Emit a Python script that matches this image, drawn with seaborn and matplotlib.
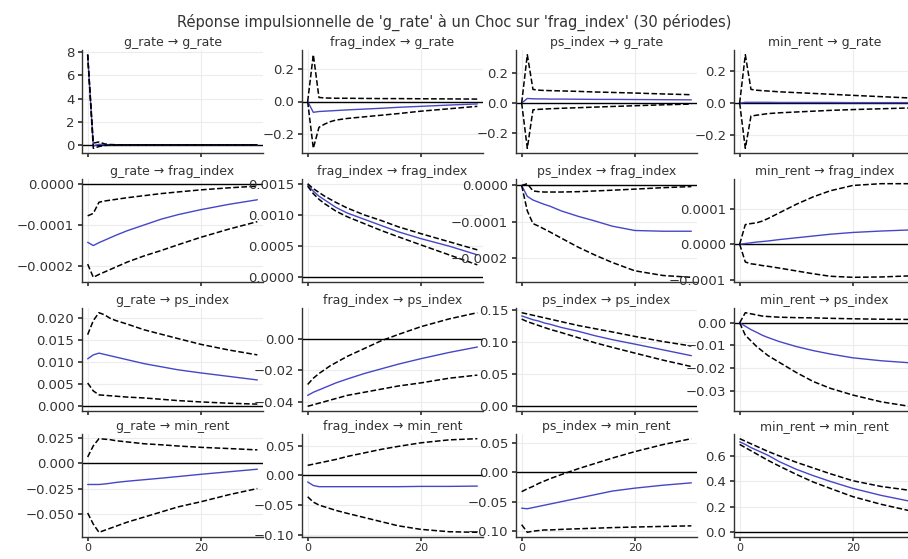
import matplotlib
matplotlib.use("Agg")
import numpy as np
import pandas as pd
import seaborn as sns
import matplotlib.pyplot as plt

# ---------------- data ----------------
variables = ["g_rate", "frag_index", "ps_index", "min_rent"]
periods = [0, 1, 2, 3, 4, 5, 7, 10, 13, 16, 20, 25, 30]
suptitle = "Réponse impulsionnelle de 'g_rate' à un Choc sur 'frag_index' (30 périodes)"
x_ticks = [0, 20]

# naming: <series>_<impulse>_<response>  (g=g_rate, f=frag_index, p=ps_index, m=min_rent)
# --- response g_rate ---
irf_g_g = [7.8, -0.1, 0.05, 0.0, 0.0, 0.0, 0.0, 0.0, 0.0, 0.0, 0.0, 0.0, 0.0]
lo_g_g = [7.8, -0.3, -0.15, -0.05, -0.02, -0.01, 0.0, 0.0, 0.0, 0.0, 0.0, 0.0, 0.0]
hi_g_g = [7.8, 0.15, 0.25, 0.08, 0.03, 0.01, 0.0, 0.0, 0.0, 0.0, 0.0, 0.0, 0.0]
yt_g_g = [0, 2, 4, 6, 8]

irf_f_g = [0.0, -0.067, -0.062, -0.06, -0.058, -0.056, -0.052, -0.047, -0.042, -0.036, -0.03, -0.022, -0.015]
lo_f_g = [0.0, -0.29, -0.16, -0.14, -0.125, -0.115, -0.105, -0.095, -0.085, -0.075, -0.06, -0.045, -0.03]
hi_f_g = [0.0, 0.29, 0.025, 0.022, 0.021, 0.02, 0.02, 0.019, 0.018, 0.018, 0.017, 0.016, 0.015]
yt_f_g = [-0.2, 0.0, 0.2]

irf_p_g = [0.0, 0.03, 0.028, 0.027, 0.027, 0.026, 0.026, 0.025, 0.024, 0.024, 0.023, 0.022, 0.021]
lo_p_g = [0.0, -0.3, -0.045, -0.042, -0.04, -0.038, -0.035, -0.031, -0.027, -0.023, -0.018, -0.012, -0.007]
hi_p_g = [0.0, 0.32, 0.09, 0.085, 0.083, 0.082, 0.08, 0.077, 0.073, 0.07, 0.066, 0.06, 0.055]
yt_p_g = [-0.2, 0.0, 0.2]

irf_m_g = [0.0, 0.005, 0.005, 0.005, 0.005, 0.005, 0.004, 0.004, 0.004, 0.004, 0.003, 0.003, 0.003]
lo_m_g = [0.0, -0.28, -0.08, -0.075, -0.07, -0.065, -0.06, -0.055, -0.05, -0.045, -0.04, -0.035, -0.03]
hi_m_g = [0.0, 0.3, 0.085, 0.08, 0.077, 0.075, 0.07, 0.065, 0.06, 0.055, 0.048, 0.04, 0.032]
yt_m_g = [-0.2, 0.0, 0.2]

# --- response frag_index ---
irf_g_f = [-1.42e-4, -1.50e-4, -1.43e-4, -1.37e-4, -1.31e-4, -1.25e-4, -1.14e-4, -1.00e-4, -0.86e-4, -0.75e-4, -0.63e-4, -0.50e-4, -0.39e-4]
lo_g_f = [-1.95e-4, -2.27e-4, -2.20e-4, -2.14e-4, -2.08e-4, -2.02e-4, -1.90e-4, -1.75e-4, -1.62e-4, -1.48e-4, -1.30e-4, -1.10e-4, -0.92e-4]
hi_g_f = [-0.78e-4, -0.72e-4, -0.45e-4, -0.42e-4, -0.40e-4, -0.38e-4, -0.34e-4, -0.29e-4, -0.24e-4, -0.20e-4, -0.15e-4, -0.10e-4, -0.06e-4]
yt_g_f = [-0.0002, -0.0001, 0.0]

irf_f_f = [1.48e-3, 1.38e-3, 1.30e-3, 1.24e-3, 1.18e-3, 1.12e-3, 1.03e-3, 0.93e-3, 0.83e-3, 0.73e-3, 0.62e-3, 0.50e-3, 0.36e-3]
lo_f_f = [1.46e-3, 1.34e-3, 1.25e-3, 1.18e-3, 1.12e-3, 1.06e-3, 0.97e-3, 0.86e-3, 0.75e-3, 0.65e-3, 0.52e-3, 0.36e-3, 0.20e-3]
hi_f_f = [1.50e-3, 1.42e-3, 1.36e-3, 1.30e-3, 1.25e-3, 1.20e-3, 1.11e-3, 1.00e-3, 0.91e-3, 0.81e-3, 0.70e-3, 0.57e-3, 0.44e-3]
yt_f_f = [0.0, 0.0005, 0.0010, 0.0015]

irf_p_f = [0.0, -0.30e-4, -0.40e-4, -0.46e-4, -0.52e-4, -0.57e-4, -0.70e-4, -0.85e-4, -0.98e-4, -1.12e-4, -1.24e-4, -1.26e-4, -1.26e-4]
lo_p_f = [0.0, -0.70e-4, -1.05e-4, -1.12e-4, -1.20e-4, -1.28e-4, -1.45e-4, -1.70e-4, -1.92e-4, -2.12e-4, -2.35e-4, -2.48e-4, -2.53e-4]
hi_p_f = [0.0, 0.05e-4, -0.15e-4, -0.17e-4, -0.18e-4, -0.18e-4, -0.18e-4, -0.17e-4, -0.15e-4, -0.13e-4, -0.10e-4, -0.06e-4, -0.03e-4]
yt_p_f = [-0.0002, -0.0001, 0.0]

irf_m_f = [0.0, 0.02e-4, 0.04e-4, 0.06e-4, 0.075e-4, 0.09e-4, 0.13e-4, 0.18e-4, 0.23e-4, 0.28e-4, 0.33e-4, 0.37e-4, 0.40e-4]
lo_m_f = [0.0, -0.50e-4, -0.55e-4, -0.57e-4, -0.60e-4, -0.62e-4, -0.67e-4, -0.75e-4, -0.83e-4, -0.90e-4, -0.93e-4, -0.92e-4, -0.89e-4]
hi_m_f = [0.0, 0.55e-4, 0.58e-4, 0.60e-4, 0.65e-4, 0.72e-4, 0.88e-4, 1.12e-4, 1.33e-4, 1.50e-4, 1.65e-4, 1.70e-4, 1.70e-4]
yt_m_f = [-0.0001, 0.0, 0.0001]

# --- response ps_index ---
irf_g_p = [0.0108, 0.0117, 0.0121, 0.0118, 0.0115, 0.0112, 0.0106, 0.0097, 0.0090, 0.0083, 0.0076, 0.0068, 0.0060]
lo_g_p = [0.0053, 0.0035, 0.0026, 0.0025, 0.0024, 0.0023, 0.0021, 0.0019, 0.0016, 0.0013, 0.0010, 0.0007, 0.0005]
hi_g_p = [0.0163, 0.0195, 0.0213, 0.0208, 0.0200, 0.0195, 0.0187, 0.0174, 0.0164, 0.0154, 0.0141, 0.0128, 0.0117]
yt_g_p = [0.0, 0.005, 0.010, 0.015, 0.020]

irf_f_p = [-0.036, -0.034, -0.0325, -0.031, -0.0295, -0.028, -0.0255, -0.022, -0.019, -0.016, -0.0125, -0.0085, -0.005]
lo_f_p = [-0.043, -0.042, -0.041, -0.040, -0.039, -0.038, -0.036, -0.034, -0.032, -0.030, -0.028, -0.025, -0.023]
hi_f_p = [-0.029, -0.025, -0.022, -0.0195, -0.017, -0.015, -0.011, -0.006, -0.001, 0.003, 0.008, 0.013, 0.017]
yt_f_p = [-0.04, -0.02, 0.0]

irf_p_p = [0.141, 0.138, 0.135, 0.133, 0.130, 0.128, 0.123, 0.117, 0.110, 0.104, 0.097, 0.088, 0.079]
lo_p_p = [0.136, 0.132, 0.129, 0.126, 0.123, 0.120, 0.115, 0.107, 0.099, 0.092, 0.083, 0.072, 0.062]
hi_p_p = [0.146, 0.144, 0.142, 0.140, 0.138, 0.136, 0.132, 0.126, 0.121, 0.116, 0.109, 0.101, 0.094]
yt_p_p = [0.0, 0.05, 0.10, 0.15]

irf_m_p = [0.0, -0.0015, -0.003, -0.0042, -0.0055, -0.0065, -0.0083, -0.0105, -0.0123, -0.0138, -0.0155, -0.0168, -0.0177]
lo_m_p = [0.0, -0.0055, -0.008, -0.0105, -0.0125, -0.0145, -0.0175, -0.022, -0.026, -0.029, -0.032, -0.035, -0.037]
hi_m_p = [0.0, 0.0045, 0.004, 0.0035, 0.003, 0.0028, 0.0025, 0.0023, 0.0022, 0.002, 0.0018, 0.0016, 0.0015]
yt_m_p = [-0.03, -0.02, -0.01, 0.0]

# --- response min_rent ---
irf_g_m = [-0.021, -0.021, -0.021, -0.0205, -0.0198, -0.019, -0.0178, -0.0163, -0.0148, -0.0132, -0.011, -0.0085, -0.006]
lo_g_m = [-0.049, -0.060, -0.068, -0.066, -0.064, -0.062, -0.058, -0.053, -0.048, -0.043, -0.038, -0.031, -0.025]
hi_g_m = [0.006, 0.017, 0.024, 0.0235, 0.023, 0.022, 0.0208, 0.019, 0.018, 0.0168, 0.0155, 0.0143, 0.013]
yt_g_m = [-0.050, -0.025, 0.0, 0.025]

irf_f_m = [-0.011, -0.017, -0.019, -0.019, -0.019, -0.019, -0.019, -0.019, -0.019, -0.019, -0.0185, -0.0185, -0.018]
lo_f_m = [-0.036, -0.045, -0.050, -0.053, -0.056, -0.059, -0.064, -0.071, -0.078, -0.085, -0.091, -0.095, -0.096]
hi_f_m = [0.017, 0.019, 0.021, 0.023, 0.025, 0.027, 0.032, 0.038, 0.044, 0.049, 0.055, 0.060, 0.062]
yt_f_m = [-0.10, -0.05, 0.0, 0.05]

irf_p_m = [-0.061, -0.062, -0.060, -0.058, -0.056, -0.054, -0.050, -0.044, -0.038, -0.032, -0.027, -0.022, -0.018]
lo_p_m = [-0.089, -0.102, -0.100, -0.099, -0.098, -0.098, -0.097, -0.096, -0.095, -0.094, -0.093, -0.092, -0.091]
hi_p_m = [-0.033, -0.028, -0.024, -0.019, -0.015, -0.011, -0.004, 0.006, 0.015, 0.024, 0.035, 0.047, 0.057]
yt_p_m = [-0.10, -0.05, 0.0, 0.05]

irf_m_m = [0.71, 0.69, 0.665, 0.645, 0.625, 0.605, 0.555, 0.495, 0.445, 0.40, 0.345, 0.29, 0.245]
lo_m_m = [0.69, 0.665, 0.64, 0.615, 0.59, 0.565, 0.52, 0.455, 0.395, 0.345, 0.28, 0.22, 0.17]
hi_m_m = [0.735, 0.715, 0.695, 0.675, 0.655, 0.635, 0.60, 0.55, 0.505, 0.46, 0.405, 0.36, 0.33]
yt_m_m = [0.0, 0.2, 0.4, 0.6]

abbr = {"g_rate": "g", "frag_index": "f", "ps_index": "p", "min_rent": "m"}
g = globals()

# ---------------- style ----------------
sns.set_theme(style="ticks", rc={
    "axes.grid": True,
    "grid.color": "#ececec",
    "grid.linewidth": 0.8,
    "axes.edgecolor": "#333333",
    "axes.linewidth": 1.0,
    "xtick.labelsize": 8,
    "ytick.labelsize": 9.5,
    "xtick.major.size": 3,
    "ytick.major.size": 3,
    "xtick.major.pad": 1.5,
    "ytick.major.pad": 2.5,
    "xtick.color": "#333333",
    "ytick.color": "#333333",
    "text.color": "#333333",
})
plt.rcParams["font.family"] = ["DejaVu Sans"]

W, H = 908, 559
fig = plt.figure(figsize=(W / 100, H / 100), dpi=100)

col_left = [82, 302, 516, 734]
row_top = [50, 179, 308, 434]
ax_w, ax_h = 181, 103

for i, resp in enumerate(variables):
    for j, imp in enumerate(variables):
        ax = fig.add_axes([col_left[j] / W, 1 - (row_top[i] + ax_h) / H, ax_w / W, ax_h / H])
        key = f"{abbr[imp]}_{abbr[resp]}"
        df = pd.DataFrame({
            "t": periods,
            "irf": g["irf_" + key],
            "lo": g["lo_" + key],
            "hi": g["hi_" + key],
        })
        ax.axhline(0, color="black", lw=1.0, zorder=1)
        sns.lineplot(data=df, x="t", y="irf", ax=ax, color="#4646c8", lw=1.0, zorder=2)
        sns.lineplot(data=df, x="t", y="lo", ax=ax, color="black", lw=1.1, linestyle="--", zorder=3)
        sns.lineplot(data=df, x="t", y="hi", ax=ax, color="black", lw=1.1, linestyle="--", zorder=3)
        ax.set_xlim(-1, 31)
        ax.set_xticks(x_ticks)
        ax.set_yticks(g["yt_" + key])
        ax.set_xlabel("")
        ax.set_ylabel("")
        if i < 3:
            ax.set_xticklabels([])
        ax.set_title(f"{imp} → {resp}", fontsize=9, pad=3, color="#333333")
        sns.despine(ax=ax)

fig.text(0.5, 1 - 22 / H, suptitle, ha="center", va="center", fontsize=10.5, color="#333333")

fig.savefig("out.png", dpi=100)
